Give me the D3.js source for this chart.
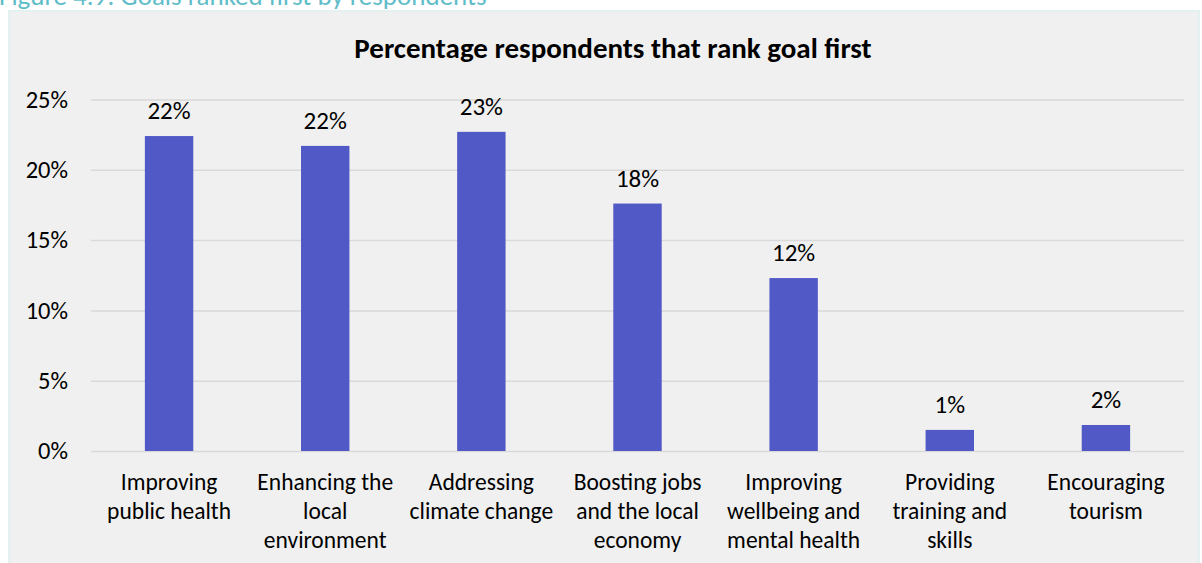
<!DOCTYPE html>
<html><head><meta charset="utf-8">
<script src="https://cdn.jsdelivr.net/npm/d3@7"></script>
<style>
html,body{margin:0;padding:0;background:#fff;}
svg{display:block;font-family:Calibri, Carlito, "Open Sans", sans-serif;}
</style></head>
<body>
<svg id="c" width="1202" height="563"></svg>
<script>
const categories = [
  ["Improving","public health"],
  ["Enhancing the","local","environment"],
  ["Addressing","climate change"],
  ["Boosting jobs","and the local","economy"],
  ["Improving","wellbeing and","mental health"],
  ["Providing","training and","skills"],
  ["Encouraging","tourism"]
];
const values = [22.4, 21.7, 22.7, 17.6, 12.3, 1.5, 1.85];
const valueLabels = ["22%","22%","23%","18%","12%","1%","2%"];
const yTicks = [0,5,10,15,20,25];
const title = "Percentage respondents that rank goal first";
const heading = "Figure 4.9: Goals ranked first by respondents";

const svg = d3.select("#c");

// heading (cut off at top)
svg.append("text").attr("x",-1).attr("y",5)
  .attr("fill","#5fbdc9").attr("font-size",27).text(heading);

// panel
svg.append("rect").attr("x",9).attr("y",11).attr("width",1190).attr("height",560)
  .attr("fill","#f0f0f0").attr("stroke","#e3f1f1").attr("stroke-width",2);

const m = {left:91, right:1184, top:99.5, bottom:451};
const x = d3.scaleBand().domain(d3.range(categories.length)).range([m.left,m.right]).paddingInner(0.69).paddingOuter(0.345);
const y = d3.scaleLinear().domain([0,25]).range([m.bottom,m.top]);

// title
svg.append("text").attr("x",613).attr("y",58).attr("text-anchor","middle")
  .attr("font-weight","bold").attr("font-size",29).attr("fill","#000").text(title);

// grid
const yAxis = d3.axisLeft(y).tickValues(yTicks).tickSize(-(m.right-m.left)).tickFormat(d=>d+"%");
const ga = svg.append("g").attr("transform",`translate(${m.left},0)`).call(yAxis);
ga.select(".domain").remove();
ga.selectAll(".tick line").attr("stroke","#d9d9d9").attr("stroke-width",1.5);
ga.selectAll(".tick text").attr("x",-23).attr("font-size",24.5).attr("fill","#000")
  .attr("font-family","Calibri, Carlito, 'Open Sans', sans-serif");

// bars
svg.append("g").selectAll("rect").data(values).join("rect")
  .attr("x",(d,i)=>x(i)).attr("width",x.bandwidth())
  .attr("y",d=>y(d)).attr("height",d=>y(0)-y(d))
  .attr("fill","#5159c6");

// value labels
svg.append("g").selectAll("text").data(values).join("text")
  .attr("x",(d,i)=>x(i)+x.bandwidth()/2).attr("y",d=>y(d)-17)
  .attr("text-anchor","middle").attr("font-size",25).attr("fill","#000")
  .text((d,i)=>valueLabels[i]);

// category labels
const cg = svg.append("g").selectAll("text").data(categories).join("text")
  .attr("text-anchor","middle").attr("font-size",23.5).attr("fill","#000")
  .attr("transform",(d,i)=>`translate(${x(i)+x.bandwidth()/2},0)`);
cg.selectAll("tspan").data(d=>d).join("tspan")
  .attr("x",0).attr("y",(d,j)=>490+j*29).text(d=>d);
</script>
</body></html>
